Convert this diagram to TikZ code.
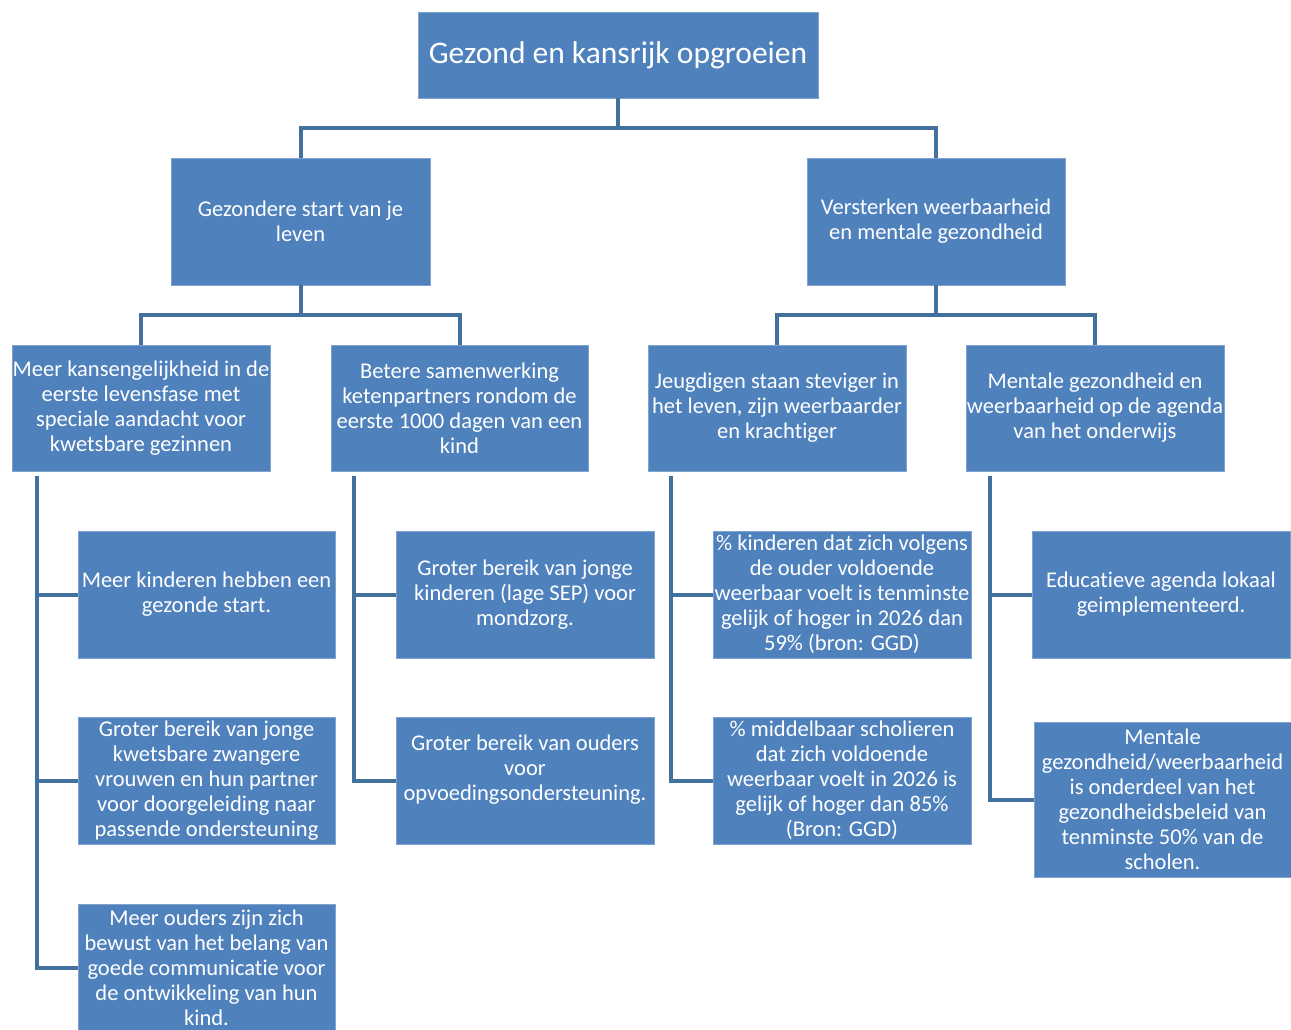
\documentclass[tikz,border=0pt]{standalone}
\usepackage{fontspec}
\setmainfont{Carlito}[Ligatures=NoCommon]
\definecolor{boxblue}{HTML}{4F81BD}
\definecolor{edgeblue}{HTML}{7FA2CF}
\definecolor{linkblue}{HTML}{41719C}
\begin{document}
\begin{tikzpicture}[x=1pt,y=1pt,
  box/.style={draw=edgeblue,line width=0.8pt,fill=boxblue,text=white,align=center,
    inner sep=0pt,font=\fontsize{22.5}{25}\selectfont},
  link/.style={draw=linkblue,line width=4pt}]
\useasboundingbox (0,0) rectangle (1291,-1030);

% title
\node[box,minimum width=400,minimum height=86,font=\fontsize{31.5}{36}\selectfont] (top) at (618,-55) {Gezond en kansrijk opgroeien};

% first level
\node[box,minimum width=259,minimum height=127] (la) at (300.5,-221.5) {Gezondere start van je\\leven};
\node[box,minimum width=258,minimum height=127] (lb) at (936,-221.5) {Versterken weerbaarheid\\en mentale gezondheid};

% second level
\node[box,minimum width=258,minimum height=126] (ga) at (141,-408) {Meer kansengelijkheid in de\\eerste levensfase met\\speciale aandacht voor\\kwetsbare gezinnen};
\node[box,minimum width=257,minimum height=126] (gb) at (459.5,-408) {Betere samenwerking\\ketenpartners rondom de\\eerste 1000 dagen van een\\kind};
\node[box,minimum width=258,minimum height=126] (gc) at (777,-408) {Jeugdigen staan steviger in\\het leven, zijn weerbaarder\\en krachtiger};
\node[box,minimum width=258,minimum height=126] (gd) at (1095,-408) {Mentale gezondheid en\\weerbaarheid op de agenda\\van het onderwijs};

% results
\node[box,minimum width=257,minimum height=127] (a1) at (206.5,-594.5) {Meer kinderen hebben een\\gezonde start.};
\node[box,minimum width=257,minimum height=127] (a2) at (206.5,-780.5) {Groter bereik van jonge\\kwetsbare zwangere\\vrouwen en hun partner\\voor doorgeleiding naar\\passende ondersteuning};
\node[box,minimum width=257,minimum height=128] (a3) at (206.5,-968) {Meer ouders zijn zich\\bewust van het belang van\\goede communicatie voor\\de ontwikkeling van hun\\kind.};

\node[box,minimum width=258,minimum height=127] (b1) at (525,-594.5) {Groter bereik van jonge\\kinderen (lage SEP) voor\\mondzorg.};
\node[box,minimum width=258,minimum height=127] (b2) at (525,-780.5) {Groter bereik van ouders\\voor\\opvoedingsondersteuning.\\\mbox{}};

\node[box,minimum width=258,minimum height=127] (c1) at (842,-594.5) {\% kinderen dat zich volgens\\de ouder voldoende\\weerbaar voelt is tenminste\\gelijk of hoger in 2026 dan\\59\% (bron: GGD)};
\node[box,minimum width=258,minimum height=127] (c2) at (842,-780.5) {\% middelbaar scholieren\\dat zich voldoende\\weerbaar voelt in 2026 is\\gelijk of hoger dan 85\%\\(Bron: GGD)};

\node[box,minimum width=258,minimum height=127] (d1) at (1161,-594.5) {Educatieve agenda lokaal\\geimplementeerd.};
\node[box,minimum width=257,minimum height=155] (d2) at (1162.5,-799.5) {Mentale\\gezondheid/weerbaarheid\\is onderdeel van het\\gezondheidsbeleid van\\tenminste 50\% van de\\scholen.};

% tree connectors
\draw[link] (top.south) -- ++(0,-30) coordinate (t0);
\draw[link] (la.north) |- (t0) -| (lb.north);
\draw[link] (la.south) -- ++(0,-30) coordinate (s0);
\draw[link] (ga.north) |- (s0) -| (gb.north);
\draw[link] (lb.south) -- ++(0,-30) coordinate (r0);
\draw[link] (gc.north) |- (r0) -| (gd.north);

% side rails to the results
\coordinate (ra) at ([xshift=25pt,yshift=-5pt]ga.south west);
\draw[link] (ra) |- (a3.west);
\draw[link] (ra |- a1.west) -- (a1.west);
\draw[link] (ra |- a2.west) -- (a2.west);

\coordinate (rb) at ([xshift=23pt,yshift=-5pt]gb.south west);
\draw[link] (rb) |- (b2.west);
\draw[link] (rb |- b1.west) -- (b1.west);

\coordinate (rc) at ([xshift=23pt,yshift=-5pt]gc.south west);
\draw[link] (rc) |- (c2.west);
\draw[link] (rc |- c1.west) -- (c1.west);

\coordinate (rd) at ([xshift=24pt,yshift=-5pt]gd.south west);
\draw[link] (rd) |- (d2.west);
\draw[link] (rd |- d1.west) -- (d1.west);
\end{tikzpicture}
\end{document}
